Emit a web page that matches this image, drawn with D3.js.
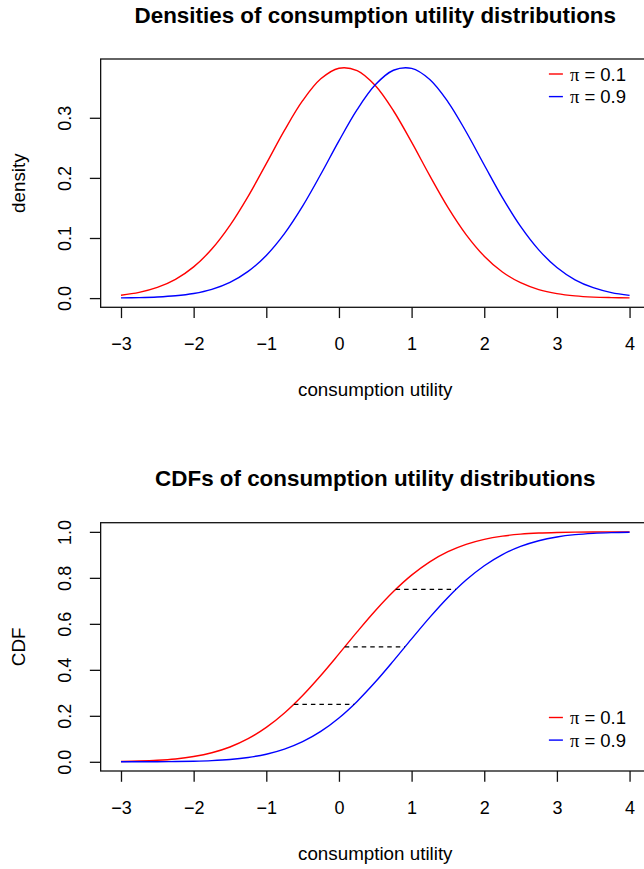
<!DOCTYPE html>
<html>
<head>
<meta charset="utf-8">
<script src="https://cdn.jsdelivr.net/npm/d3@7"></script>
<style>
  body { margin: 0; background: #fff; }
  text { font-family: "Liberation Sans", Arial, sans-serif; fill: #000; }
</style>
</head>
<body>
<div id="chart"></div>
<script>
//Declare datasets (every 0.25 on the x axis)
var xValues = [-3, -2.75, -2.5, -2.25, -2, -1.75, -1.5, -1.25, -1, -0.75, -0.5, -0.25,
  0, 0.25, 0.5, 0.75, 1, 1.25, 1.5, 1.75, 2, 2.25, 2.5, 2.75, 3, 3.25, 3.5, 3.75, 4];

var densityLow = [0.0048, 0.0095, 0.0177, 0.0312, 0.0519, 0.0816, 0.1210, 0.1693, 0.2237, 0.2790,
  0.3284, 0.3648, 0.3825, 0.3785, 0.3536, 0.3117, 0.2594, 0.2037, 0.1510, 0.1057, 0.0698, 0.0435,
  0.0256, 0.0142, 0.0075, 0.0037, 0.0017, 0.0008, 0.0003];
var densityHigh = [0.0003, 0.0008, 0.0018, 0.0038, 0.0077, 0.0146, 0.0262, 0.0444, 0.0710, 0.1073,
  0.1530, 0.2060, 0.2616, 0.3136, 0.3549, 0.3791, 0.3822, 0.3637, 0.3266, 0.2768, 0.2215, 0.1672,
  0.1192, 0.0802, 0.0509, 0.0305, 0.0173, 0.0092, 0.0046];

var cdfLow = [0.0015, 0.0033, 0.0066, 0.0125, 0.0228, 0.0392, 0.0644, 0.1005, 0.1495, 0.2124,
  0.2885, 0.3755, 0.4693, 0.5649, 0.6568, 0.7403, 0.8118, 0.8697, 0.9139, 0.9458, 0.9676, 0.9815,
  0.9900, 0.9949, 0.9975, 0.9988, 0.9995, 0.9998, 0.9999];
var cdfHigh = [0.0001, 0.0002, 0.0005, 0.0012, 0.0026, 0.0053, 0.0102, 0.0189, 0.0331, 0.0552,
  0.0876, 0.1323, 0.1908, 0.2628, 0.3467, 0.4389, 0.5345, 0.6281, 0.7147, 0.7904, 0.8527, 0.9012,
  0.9368, 0.9616, 0.9778, 0.9878, 0.9936, 0.9968, 0.9985];

// dashed quartile links between the two CDFs
var quantileLevels = [0.25, 0.5, 0.75];
var quantileLow = [-0.62, 0.08, 0.78];
var quantileHigh = [0.21, 0.91, 1.61];

var xTicks = [-3, -2, -1, 0, 1, 2, 3, 4];
var densityTicks = [0, 0.1, 0.2, 0.3];
var cdfTicks = [0, 0.2, 0.4, 0.6, 0.8, 1];
var legendLabels = ["0.1", "0.9"];
var seriesColors = ["red", "blue"];

function init() {
  //Declare variables
  var w = 644;
  var h = 869;
  var left = 100.65;
  var right = 649.9;   // R plot region runs past the picture edge
  var fontSize = 18;

  var svg = d3.select("#chart")
    .append("svg")
    .attr("width", w)
    .attr("height", h);

  // x scale shared by both panels, with R's 4% padding
  var xPad = (d3.max(xValues) - d3.min(xValues)) * 0.04;
  var xScale = d3.scaleLinear()
    .domain([d3.min(xValues) - xPad, d3.max(xValues) + xPad])
    .range([left, right]);

  function drawPanel(top, bottom, series, yTicks, title, yTitle, legendTop) {
    var yMin = d3.min(series, function (s) { return d3.min(s); });
    var yMax = d3.max(series, function (s) { return d3.max(s); });
    var yPad = (yMax - Math.min(yMin, 0)) * 0.04;
    var yScale = d3.scaleLinear()
      .domain([Math.min(yMin, 0) - yPad, yMax + yPad])
      .range([bottom, top]);

    var g = svg.append("g");

    //curves
    var line = d3.line()
      .x(function (d, i) { return xScale(xValues[i]); })
      .y(function (d) { return yScale(d); })
      .curve(d3.curveCatmullRom.alpha(0.5));

    g.selectAll("path.curve")
      .data(series)
      .enter()
      .append("path")
      .attr("class", "curve")
      .attr("d", line)
      .attr("fill", "none")
      .attr("stroke", function (d, i) { return seriesColors[i]; })
      .attr("stroke-width", 1.4);

    //box
    g.append("rect")
      .attr("x", left)
      .attr("y", top)
      .attr("width", right - left)
      .attr("height", bottom - top)
      .attr("fill", "none")
      .attr("stroke", "#111")
      .attr("stroke-width", 1.3);

    //x axis
    var xAxis = g.append("g")
      .attr("transform", "translate(0," + bottom + ")")
      .call(d3.axisBottom(xScale)
        .tickValues(xTicks)
        .tickSize(10.8)
        .tickFormat(d3.format("d")));
    xAxis.select(".domain").remove();
    xAxis.selectAll(".tick line").attr("stroke", "#111").attr("stroke-width", 1.3);
    xAxis.selectAll(".tick text")
      .attr("y", 43)
      .attr("dy", null)
      .attr("fill", "#000")
      .style("font-size", fontSize + "px");

    //y axis
    var yAxis = g.append("g")
      .attr("transform", "translate(" + left + ",0)")
      .call(d3.axisLeft(yScale)
        .tickValues(yTicks)
        .tickSize(10.8)
        .tickFormat(d3.format(".1f")));
    yAxis.select(".domain").remove();
    yAxis.selectAll(".tick line").attr("stroke", "#111").attr("stroke-width", 1.3);
    yAxis.selectAll(".tick text")
      .attr("x", 0)
      .attr("dy", null)
      .attr("text-anchor", "middle")
      .attr("transform", "translate(-29.5,0) rotate(-90)")
      .attr("fill", "#000")
      .style("font-size", fontSize + "px");

    //titles
    var cx = (left + right) / 2;
    g.append("text")
      .attr("x", cx)
      .attr("y", top - 36.5)
      .attr("text-anchor", "middle")
      .style("font-size", "22.4px")
      .style("font-weight", "bold")
      .text(title);

    g.append("text")
      .attr("x", cx)
      .attr("y", bottom + 89)
      .attr("text-anchor", "middle")
      .style("font-size", "18.8px")
      .text("consumption utility");

    g.append("text")
      .attr("transform", "translate(" + (left - 76) + "," + ((top + bottom) / 2) + ") rotate(-90)")
      .attr("text-anchor", "middle")
      .style("font-size", "18.8px")
      .text(yTitle);

    //legend
    var legend = g.selectAll("g.legend")
      .data(legendLabels)
      .enter()
      .append("g")
      .attr("class", "legend")
      .attr("transform", function (d, i) {
        return "translate(" + (right - 101) + "," + (legendTop + i * 22.6) + ")";
      });

    legend.append("line")
      .attr("x1", 0)
      .attr("x2", 14)
      .attr("stroke", function (d, i) { return seriesColors[i]; })
      .attr("stroke-width", 1.4);

    var lt = legend.append("text")
      .attr("x", 21)
      .attr("dy", "0.36em")
      .style("font-size", "18.5px");
    lt.append("tspan")
      .style("font-family", "'Liberation Serif', 'DejaVu Serif', serif")
      .text("\u03c0");
    lt.append("tspan")
      .text(function (d) { return " = " + d; });

    return yScale;
  }

  //Density panel
  drawPanel(59, 307.3, [densityLow, densityHigh], densityTicks,
    "Densities of consumption utility distributions", "density", 74);

  //CDF panel
  var cdfY = drawPanel(522.7, 771, [cdfLow, cdfHigh], cdfTicks,
    "CDFs of consumption utility distributions", "CDF", 717.5);

  // dashed lines at the quartiles
  svg.selectAll("line.quartile")
    .data(quantileLevels)
    .enter()
    .append("line")
    .attr("class", "quartile")
    .attr("x1", function (d, i) { return xScale(quantileLow[i]); })
    .attr("x2", function (d, i) { return xScale(quantileHigh[i]); })
    .attr("y1", function (d) { return cdfY(d); })
    .attr("y2", function (d) { return cdfY(d); })
    .attr("stroke", "#000")
    .attr("stroke-width", 1.2)
    .attr("stroke-dasharray", "4.5,4");
}

window.onload = init;
</script>
</body>
</html>
